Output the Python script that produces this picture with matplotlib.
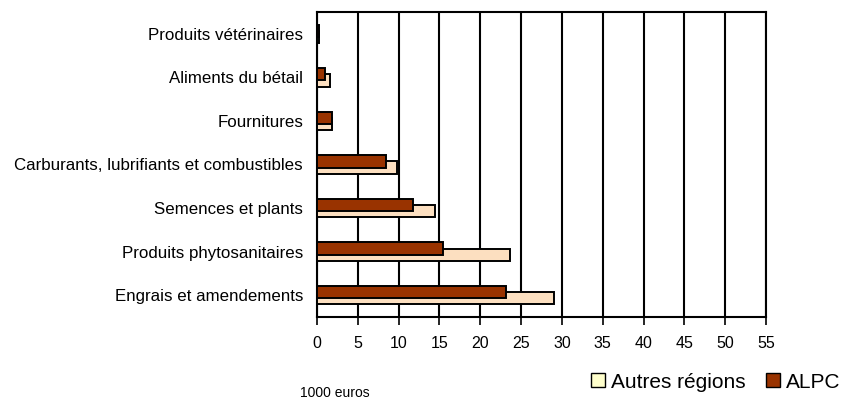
import matplotlib.pyplot as plt
import matplotlib.patches as mpatches
import numpy as np

plt.rcParams['font.family'] = ['Liberation Sans', 'DejaVu Sans']

# Charges (1000 euros), categories from bottom to top
categories = ["Engrais et amendements", "Produits phytosanitaires", "Semences et plants",
              "Carburants, lubrifiants et combustibles", "Fournitures",
              "Aliments du bétail", "Produits vétérinaires"]
alpc = [23.2, 15.4, 11.7, 8.4, 1.8, 1.0, 0.2]
autres = [29.0, 23.6, 14.4, 9.8, 1.8, 1.6, 0.2]
xticks = list(range(0, 60, 5))

col_alpc = "#993300"
col_autres = "#FCDFC0"

fig = plt.figure(figsize=(8.43, 4.01), dpi=100)
ax = fig.add_axes([317 / 843, 1 - 317 / 401, (766 - 317) / 843, (317 - 12) / 401])

y = np.arange(len(categories))
h = 0.28
ax.barh(y - 0.07, autres, height=h, color=col_autres, edgecolor="black", linewidth=1.4, zorder=3)
ax.barh(y + 0.07, alpc, height=h, color=col_alpc, edgecolor="black", linewidth=1.4, zorder=4)

ax.set_xlim(0, 55)
ax.set_ylim(-0.5, len(categories) - 0.5)
ax.set_xticks(xticks)
ax.set_yticks(y)
ax.set_yticklabels(categories, fontsize=12.2)
ax.tick_params(axis="y", length=0, pad=10)
ax.tick_params(axis="x", length=6, width=1.2, labelsize=11.5, pad=8)
ax.grid(axis="x", color="black", linewidth=1.5, zorder=0)
for s in ax.spines.values():
    s.set_linewidth(1.5)
ax.spines["bottom"].set_visible(False)
ax.axhline(-0.5, color="black", linewidth=1.5, zorder=5, clip_on=False)

handles = [mpatches.Patch(facecolor="#FFFFCC", edgecolor="black", label="Autres régions"),
           mpatches.Patch(facecolor=col_alpc, edgecolor="black", label="ALPC")]
fig.legend(handles=handles, loc="center right", bbox_to_anchor=(1.012, 1 - 382 / 401), ncol=2,
           frameon=False, fontsize=15, handlelength=0.65, handleheight=0.65,
           handletextpad=0.3, columnspacing=1.0, borderaxespad=0.2)

fig.text(300 / 843, 8 / 401, "1000 euros", fontsize=10, va="center")

fig.savefig("out.png", dpi=100)
